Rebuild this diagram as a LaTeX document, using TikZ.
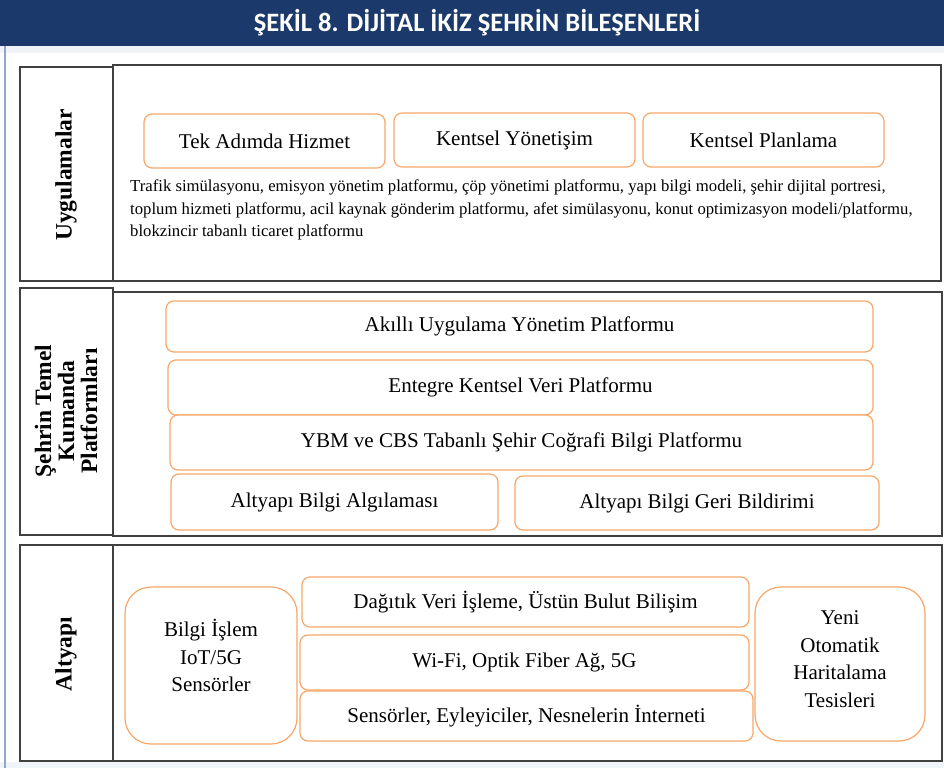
\documentclass[tikz,border=0pt]{standalone}
\usepackage{fontspec}
\setmainfont{Liberation Serif}
\newfontfamily\titlefont{Carlito}
\usetikzlibrary{positioning}
\definecolor{navy}{RGB}{27,58,107}
\definecolor{boxorange}{RGB}{247,167,105}
\definecolor{edgegray}{RGB}{64,64,64}
\definecolor{paleblue}{RGB}{240,243,248}
\definecolor{sideblue}{RGB}{143,165,204}
\tikzset{
  panel/.style={draw=edgegray, line width=1.4pt},
  obox/.style={draw=boxorange, line width=1.2pt, rounded corners=8pt, fill=white,
    inner sep=0pt, font=\fontsize{21}{24}\selectfont},
  tallbox/.style={obox, rounded corners=26pt, align=center},
  tallText/.style={align=center, font=\fontsize{21}{27.7}\selectfont},
  sidelabel/.style={rotate=90, align=center, font=\bfseries\fontsize{23.5}{23}\selectfont},
}

\begin{document}
\begin{tikzpicture}[x=1pt,y=-1pt]
  \useasboundingbox (0,0) rectangle (944,768);
  % header and frame
  \fill[paleblue] (0,46) rectangle (944,53);
  \fill[paleblue] (0,762) rectangle (944,768);
  \fill[navy] (0,0) rectangle (944,46);
  \draw[sideblue, line width=2pt] (5,46) -- (5,768);
  \node[text=white, font=\titlefont\bfseries\fontsize{26.5}{28}\selectfont] (title) at (477,23)
    {ŞEKİL 8. DİJİTAL İKİZ ŞEHRİN BİLEŞENLERİ};

  % Uygulamalar
  \draw[panel] (113,65) rectangle (941,281);
  \draw[panel] (20,67) rectangle (113,281);
  \node[sidelabel] (uygLabel) at (66,175) {Uygulamalar};
  \node[obox, minimum width=241pt, minimum height=54pt] (tek) at (264.5,141) {Tek Adımda Hizmet};
  \node[obox, minimum width=241pt, minimum height=54pt] (yonetisim) at (514.5,140) {Kentsel Yönetişim};
  \node[obox, minimum width=241pt, minimum height=54pt] (planlama) at (763.5,140) {Kentsel Planlama};
  \node[anchor=north west, align=left, inner sep=0pt,
    font=\fontsize{16.7}{22.5}\selectfont] (uygList) at (130,180)
    {Trafik simülasyonu, emisyon yönetim platformu, çöp yönetimi platformu, yapı bilgi modeli, şehir dijital portresi,\\
     toplum hizmeti platformu, acil kaynak gönderim platformu, afet simülasyonu, konut optimizasyon modeli/platformu,\\
     blokzincir tabanlı ticaret platformu};

  % Şehrin Temel Kumanda Platformları
  \draw[panel] (113,292) rectangle (942,536);
  \draw[panel] (20,288) rectangle (113,535);
  \node[sidelabel] (kumLabel) at (66,411) {Şehrin Temel\\Kumanda\\Platformları};
  \node[obox, minimum width=707pt, minimum height=51pt] (akilli) at (519.5,326.5) {Akıllı Uygulama Yönetim Platformu};
  \node[obox, minimum width=705pt, minimum height=55pt] (entegre) at (520.5,387.5) {Entegre Kentsel Veri Platformu};
  \node[obox, minimum width=703pt, minimum height=55pt] (ybm) at (521.5,442.5) {YBM ve CBS Tabanlı Şehir Coğrafi Bilgi Platformu};
  \node[obox, minimum width=327pt, minimum height=56pt] (algilama) at (334.5,502) {Altyapı Bilgi Algılaması};
  \node[obox, minimum width=364pt, minimum height=54pt] (geri) at (697,503) {Altyapı Bilgi Geri Bildirimi};

  % Altyapı
  \draw[panel] (113,545) rectangle (942,761);
  \draw[panel] (20,545) rectangle (113,761);
  \node[sidelabel] (altLabel) at (66,654) {Altyapı};
  \node[tallbox, minimum width=172pt, minimum height=157pt] (bilgi) at (211,665.5) {};
  \node[tallText] (bilgiText) at (bilgi.center) [yshift=10pt] {Bilgi İşlem\\IoT/5G\\Sensörler};
  \node[obox, minimum width=447pt, minimum height=50pt] (dagitik) at (525.5,602) {Dağıtık Veri İşleme, Üstün Bulut Bilişim};
  \node[obox, minimum width=449pt, minimum height=55pt] (wifi) at (524.5,662.5) {Wi-Fi, Optik Fiber Ağ, 5G};
  \node[obox, minimum width=453pt, minimum height=50pt] (sensor) at (526.5,716) {Sensörler, Eyleyiciler, Nesnelerin İnterneti};
  \node[tallbox, minimum width=170pt, minimum height=154pt] (yeni) at (840,664) {};
  \node[tallText] (yeniText) at (yeni.center) [yshift=5pt] {Yeni\\Otomatik\\Haritalama\\Tesisleri};
\end{tikzpicture}
\end{document}
